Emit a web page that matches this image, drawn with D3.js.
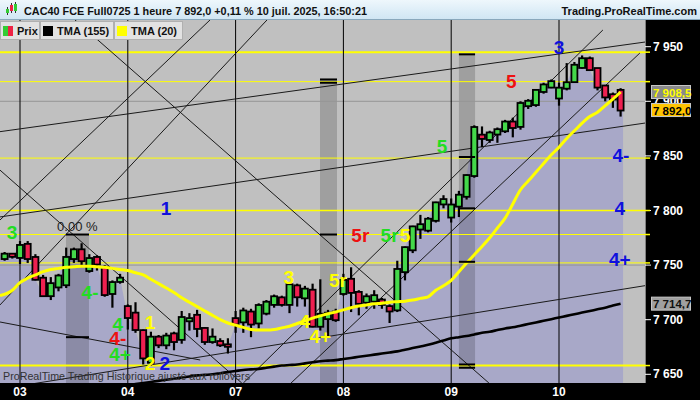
<!DOCTYPE html>
<html><head><meta charset="utf-8">
<script src="https://cdn.jsdelivr.net/npm/d3@7"></script>
<style>body{margin:0;background:#000;} svg{display:block;font-family:"Liberation Sans",Arial,sans-serif;}</style>
</head><body><svg id="c" width="700" height="400"></svg>
<script>
// ---------- DATA ----------
const dayLabels = ["03","04","07","08","09","10"];
const dayStartSlots = [0,14,28,42,56,70];
const slots = d3.range(-2, 79);
const opens  = [7756,7760,7757,7769,7757,7738,7722,7730,7732,7756,7764,7745,7757,7748,7724,7735,
 7712,7706,7690,7661,7684,7677,7687,7682,7699,7704,7692,7680,7680,7677,
 7701,7698,7707,7697,7706,7714,7720,7714,7731,7720,7727,7694,7701,7707,
 7724,7737,7725,7716,7717,7718,7712,7709,7744,7764,7783,7782,7791,7806,
 7794,7804,7813,7832,7869,7865,7870,7873,7881,7877,7896,7897,7909,7913,
 7903,7912,7918,7931,7939,7930,7914,7906,7910];
const highs  = [7762,7761,7772,7772,7760,7741,7739,7742,7766,7766,7770,7760,7759,7750,7736,7742,
 7714,7716,7691,7689,7686,7688,7689,7708,7706,7709,7693,7692,7683,7683,
 7708,7711,7710,7715,7718,7723,7722,7734,7733,7731,7733,7737,7709,7710,
 7742,7748,7727,7724,7727,7720,7714,7754,7767,7786,7796,7794,7808,7814,
 7811,7818,7833,7878,7877,7873,7876,7883,7885,7900,7902,7911,7917,7920,
 7917,7935,7936,7942,7941,7930,7915,7908,7912];
const lows   = [7754,7756,7751,7752,7736,7721,7718,7726,7729,7752,7749,7743,7745,7721,7711,7733,
 7691,7688,7659,7658,7674,7673,7672,7678,7690,7684,7677,7678,7675,7669,
 7688,7688,7684,7692,7704,7711,7712,7706,7712,7712,7693,7690,7684,7698,
 7722,7707,7704,7710,7710,7710,7697,7707,7736,7761,7774,7780,7789,7802,
 7789,7794,7810,7830,7858,7862,7862,7871,7867,7874,7893,7895,7907,7912,
 7896,7910,7917,7930,7928,7910,7900,7894,7886];
const closes = [7760,7758,7768,7756,7737,7722,7733,7740,7757,7764,7754,7756,7751,7723,7734,7738,
 7702,7691,7665,7684,7677,7685,7680,7702,7701,7692,7680,7684,7677,7676,
 7696,7708,7696,7713,7716,7721,7714,7732,7721,7728,7694,7705,7706,7700,
 7736,7725,7715,7721,7722,7714,7708,7746,7766,7785,7787,7792,7807,7810,
 7805,7814,7832,7876,7866,7871,7874,7881,7876,7898,7900,7910,7915,7918,
 7912,7917,7933,7939,7929,7913,7904,7902,7892];
const tma20 = [7722,7727,7734,7738,7741,7744,7746,7747,7748,7748.5,7749,7749,7748.5,7748,7747,7746,
 7745,7743,7741,7737,7733,7729,7725,7720,7716,7712,7708,7704,7700,7697,
 7695,7693,7691,7690.5,7690.5,7691,7692.5,7694,7696.5,7699,7701.5,7703.5,7705.5,7707,
 7709,7711,7712.5,7713.5,7714.5,7715,7716,7716.5,7717,7718,7719.5,7721,7727,7731,
 7736,7744,7752,7759.5,7767,7775,7784,7793,7806,7819,7827,7835,7843,7851,
 7858,7866,7873,7880,7886,7890,7896,7902,7908.5];
const tma155 = [7625,7626,7627,7628,7629,7630,7631,7632,7633,7634,7635,7636,7637,7638,7638.5,7639,
 7640,7641,7642,7643,7644,7645,7646,7647,7648,7649,7649.5,7650,7651,7652,
 7653,7654,7654.5,7655,7656,7657,7658,7658.5,7659,7660,7661,7662,7662.5,7663,
 7664,7665,7666,7667,7668,7669,7670,7671,7672.5,7674,7675.5,7677,7679,7681,
 7683,7684,7685,7686.5,7688,7689,7690.5,7692,7693,7694.5,7696,7697.5,7699,7700.5,
 7702,7703.5,7705,7706.5,7708,7709.5,7711,7713,7714.7];
const yTicks = [7650,7700,7750,7800,7850,7900,7950];
const yellowLevels = [7945,7918,7848,7800,7778,7752,7658];
const yellowWidths = [2,1,1,1.5,1,1,2];
const grayLevels = [7900,7750];
// trend lines: [slot1, price1, slot2, price2]
const trendLines = [
 [-2.6,7872.2,81.2,7954.3],
 [-2.6,7794.1,81.2,7880.1],
 [-2.6,7636.5,81.2,7731.2],
 [-2.6,7697.9,23.4,7663.1],
 [29.0,7642,75.7,7965.3],
 [35.2,7642,80.5,7944.2],
 [-2.6,7837,28.8,7642],
 [7.14,7974.5,60.9,7642],
 [-2.6,7791.3,24.68,7974.5],
 [-2.6,7713.5,32.08,7974.5]
];
// shaded zones: [slotStart, slotEnd, topPrice, bottomPrice]
const bands = [[5.97,8.96,7778,7600],[38.96,41.17,7920,7600],[57.0,59.1,7943,7656]];
const bandMarks = [[5.97,8.96,[7778,7684]],[38.96,41.17,[7920,7917,7778]],[57.0,59.1,[7943,7849,7802,7753,7659,7656]]];
// wave labels: [text, slot, price, color]
const waveLabels = [
 ["3",-1.04,7780,"#22dd22"],["1",18.96,7802,"#1010dd"],["4-",9.1,7725,"#22dd22"],
 ["4",12.7,7696,"#22dd22"],["4-",12.7,7683,"#ee1111"],["4+",13,7668,"#22dd22"],
 ["1",16.9,7697,"#ffff00"],["2",16.9,7660,"#ffff00"],["2",18.8,7660,"#1010dd"],
 ["3",34.9,7739,"#ffff00"],["5r",41.3,7736,"#ffff00"],["4",37,7698,"#ffff00"],["4+",39,7685,"#ffff00"],
 ["5r",44.2,7777,"#ee1111"],["5r",48,7777,"#22dd22"],["5",50,7777,"#ffff00"],
 ["5",54.8,7859,"#22dd22"],["5",63.8,7918,"#ee1111"],["3",70,7949,"#1010dd"],
 ["4-",78.05,7850,"#1010dd"],["4",77.9,7802,"#1010dd"],["4+",77.9,7755,"#1010dd"]
];
const priceBoxes = [["7 908,5",7908.5,"#8a8a8a","#ffff00"],["7 892,0",7892,"#ffc400","#000"],["7 714,7",7714.7,"#a0a0a0","#111"]];

// ---------- SCALES ----------
const PL=0, PR=645, PT=20, PB=383;
const x = d3.scaleLinear().domain([-20/7.7, 625/7.7]).range([PL, PR]);
const y = d3.scaleLinear().domain([7650,7950]).range([374.3,46.7]);
const svg = d3.select("#c");
const candles = slots.map((s,i)=>({s,o:opens[i],h:highs[i],l:lows[i],c:closes[i],t20:tma20[i],t155:tma155[i]}));

svg.append("rect").attr("width",700).attr("height",400).attr("fill","#000");
svg.append("rect").attr("x",PL).attr("y",PT).attr("width",PR-PL).attr("height",PB-PT).attr("fill","#c0c0c0");
const defs = svg.append("defs");
defs.append("clipPath").attr("id","clip").append("rect").attr("x",PL).attr("y",PT).attr("width",PR-PL).attr("height",PB-PT);
const g = svg.append("g").attr("clip-path","url(#clip)");

const lastX = x(slots[slots.length-1])+2.5;
g.append("path").datum(candles).attr("fill","#a8a8c8")
 .attr("d", d3.area().x((d,i)=> i===0? PL : (i===candles.length-1? lastX : x(d.s))).y0(PB).y1(d=>y(d.c)));

bands.forEach(b=>{
  g.append("rect").attr("x",x(b[0])).attr("width",x(b[1])-x(b[0])).attr("y",y(b[2])).attr("height",y(b[3])-y(b[2])).attr("fill","rgba(0,0,0,0.17)");
});
grayLevels.forEach(v=> g.append("line").attr("x1",PL).attr("x2",PR).attr("y1",y(v)).attr("y2",y(v)).attr("stroke","#959595").attr("stroke-width",1));
yellowLevels.forEach((v,i)=> g.append("line").attr("x1",PL).attr("x2",PR).attr("y1",y(v)).attr("y2",y(v)).attr("stroke","#ffff00").attr("stroke-width",yellowWidths[i]));
dayStartSlots.forEach(s=> g.append("line").attr("x1",x(s)).attr("x2",x(s)).attr("y1",PT).attr("y2",PB).attr("stroke","#000").attr("stroke-width",1));
trendLines.forEach(t=> g.append("line").attr("x1",x(t[0])).attr("y1",y(t[1])).attr("x2",x(t[2])).attr("y2",y(t[3])).attr("stroke","#1a1a1a").attr("stroke-width",1));

const cw = 6;
const cg = g.append("g");
candles.forEach(d=>{
  const cx = x(d.s);
  cg.append("line").attr("x1",cx).attr("x2",cx).attr("y1",y(d.h)).attr("y2",y(d.l)).attr("stroke","#000").attr("stroke-width",2.2);
  const top = y(Math.max(d.o,d.c)), bot = y(Math.min(d.o,d.c));
  cg.append("rect").attr("x",cx-cw/2).attr("width",cw).attr("y",top-0.5).attr("height",Math.max(2.5,bot-top+1))
    .attr("fill", d.c>=d.o ? "#44d84a" : "#ee2050").attr("stroke","#000").attr("stroke-width",1.8);
});

g.append("path").datum(candles.filter(d=>y(d.t155)<PB+20)).attr("fill","none").attr("stroke","#000").attr("stroke-width",2.6)
 .attr("d", d3.line().x(d=>x(d.s)).y(d=>y(d.t155)).curve(d3.curveMonotoneX));
g.append("path").datum(candles).attr("fill","none").attr("stroke","#ffff00").attr("stroke-width",3)
 .attr("d", d3.line().x((d,i)=> i===0?PL:x(d.s)).y(d=>y(d.t20)).curve(d3.curveMonotoneX));

bandMarks.forEach(b=> b[2].forEach(v=> g.append("line").attr("x1",x(b[0])).attr("x2",x(b[1])).attr("y1",y(v)).attr("y2",y(v)).attr("stroke","#000").attr("stroke-width",2)));

g.append("text").attr("x",x(7.45)).attr("y",y(7778)-4).attr("text-anchor","middle").attr("font-size",13).attr("fill","#222").text("0.00 %");
waveLabels.forEach(w=> g.append("text").attr("x",x(w[1])).attr("y",y(w[2])).attr("text-anchor","middle").attr("dominant-baseline","central")
  .attr("font-size",19).attr("font-weight","bold").attr("fill",w[3]).text(w[0]));
g.append("text").attr("x",3).attr("y",380).attr("font-size",11).attr("fill","#333").attr("textLength",247).attr("lengthAdjust","spacingAndGlyphs")
  .text("ProRealTime Trading  Historique ajusté aux rollovers");

// header
const hg = svg.append("g");
const grad = defs.append("linearGradient").attr("id","hgrad").attr("x1",0).attr("x2",0).attr("y1",0).attr("y2",1);
grad.append("stop").attr("offset","0").attr("stop-color","#eef7fc");
grad.append("stop").attr("offset","1").attr("stop-color","#cfe5f3");
hg.append("rect").attr("width",700).attr("height",20).attr("fill","url(#hgrad)");
hg.append("line").attr("x1",0).attr("x2",700).attr("y1",19.5).attr("y2",19.5).attr("stroke","#8aa8bc");
[[6,9,4,"#33cc33"],[10,5,6,"#ee2244"],[14,4,7,"#33cc33"]].forEach(r=>{
  hg.append("line").attr("x1",r[0]+1.5).attr("x2",r[0]+1.5).attr("y1",r[1]-2).attr("y2",r[1]+r[2]+2).attr("stroke","#333");
  hg.append("rect").attr("x",r[0]).attr("y",r[1]).attr("width",3).attr("height",r[2]).attr("fill",r[3]);
});
hg.append("text").attr("x",24).attr("y",14.5).attr("font-size",11).attr("font-weight","bold").attr("fill","#111")
  .attr("textLength",343).attr("lengthAdjust","spacingAndGlyphs")
  .text("CAC40 FCE Full0725 1 heure 7 892,0 +0,11 % 10 juil. 2025, 16:50:21");
hg.append("text").attr("x",697).attr("y",14.5).attr("text-anchor","end").attr("font-size",11).attr("font-weight","bold").attr("fill","#111").text("Trading.ProRealTime.com");

// legend
const legend = [["Prix",0,39,"prix"],["TMA (155)",40,73,"#000"],["TMA (20)",114,68,"#ffff00"]];
legend.forEach(l=>{
  svg.append("rect").attr("x",l[1]+0.5).attr("y",21.5).attr("width",l[2]).attr("height",18).attr("fill","#e2e2e2").attr("stroke","#b0b0b0");
  if(l[3]==="prix"){
    svg.append("rect").attr("x",l[1]+3).attr("y",26).attr("width",5).attr("height",10).attr("fill","#33cc33");
    svg.append("rect").attr("x",l[1]+8).attr("y",26).attr("width",5).attr("height",10).attr("fill","#ee2244");
  } else {
    svg.append("rect").attr("x",l[1]+3).attr("y",26).attr("width",10).attr("height",10).attr("fill",l[3]);
  }
  svg.append("text").attr("x",l[1]+17).attr("y",35).attr("font-size",11).attr("font-weight","bold").attr("fill","#111").text(l[0]);
});

// right axis
const fmt = v=> d3.format(",")(v).replace(",", " ");
svg.append("line").attr("x1",PR+0.5).attr("x2",PR+0.5).attr("y1",PT).attr("y2",PB).attr("stroke","#808080");
yTicks.forEach(v=>{
  svg.append("line").attr("x1",PR).attr("x2",PR+6).attr("y1",y(v)).attr("y2",y(v)).attr("stroke","#fff");
  svg.append("text").attr("x",PR+8).attr("y",y(v)).attr("dominant-baseline","central").attr("font-size",12).attr("font-weight","bold").attr("fill","#fff").text(fmt(v));
});
yellowLevels.forEach(v=> svg.append("line").attr("x1",PR).attr("x2",PR+5).attr("y1",y(v)).attr("y2",y(v)).attr("stroke","#ffff00").attr("stroke-width",1.5));
priceBoxes.forEach(p=>{
  svg.append("rect").attr("x",PR+6.5).attr("y",y(p[1])-6.5).attr("width",39).attr("height",13).attr("fill",p[2]).attr("stroke","#c8c8c8");
  svg.append("text").attr("x",PR+8).attr("y",y(p[1])+0.5).attr("dominant-baseline","central").attr("font-size",11.5).attr("font-weight","bold").attr("fill",p[3]).text(p[0]);
});
dayStartSlots.forEach((s,i)=> svg.append("text").attr("x",x(s)).attr("y",396).attr("text-anchor","middle").attr("font-size",12).attr("font-weight","bold").attr("fill","#fff").text(dayLabels[i]));
</script></body></html>
